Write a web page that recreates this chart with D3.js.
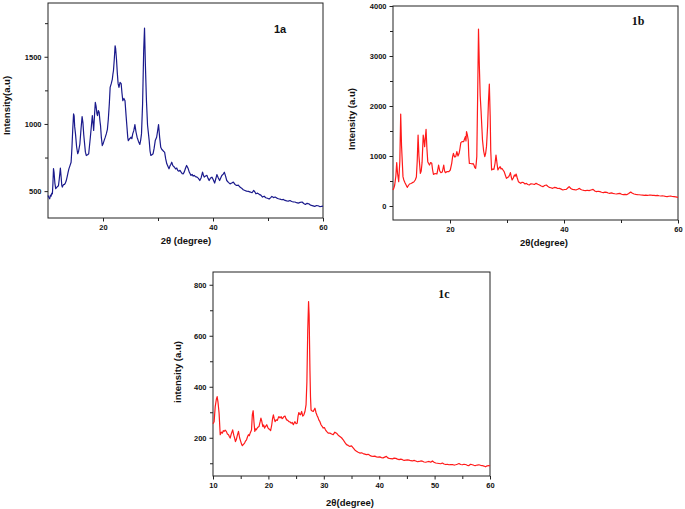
<!DOCTYPE html>
<html><head><meta charset="utf-8">
<script src="https://cdn.jsdelivr.net/npm/d3@7/dist/d3.min.js"></script>
<style>body{margin:0;background:#fff}svg{display:block}</style>
</head><body>
<svg id="c" width="685" height="509"></svg>
<script>
// ---- Panel 1a data ----
const twoThetaA = [10.0,10.15,10.3,10.45,10.55,10.7,10.8,10.9,11.0,11.1,11.25,11.4,11.6,11.75,11.9,12.05,12.25,12.4,12.5,12.6,12.8,13.0,13.15,13.3,13.5,13.65,13.8,14.0,14.2,14.35,14.5,14.65,14.75,14.85,15.0,15.2,15.4,15.55,15.8,16.0,16.2,16.35,16.5,16.6,16.8,16.97,17.2,17.4,17.55,17.7,17.9,18.06,18.2,18.3,18.45,18.6,18.75,18.9,19.0,19.15,19.3,19.45,19.55,19.7,19.87,20.0,20.2,20.4,20.6,20.8,20.97,21.15,21.3,21.5,21.7,21.8,21.9,22.05,22.2,22.3,22.45,22.6,22.75,22.9,23.1,23.3,23.45,23.6,23.8,24.0,24.2,24.36,24.5,24.6,24.85,25.1,25.25,25.4,25.6,25.8,26.0,26.2,26.45,26.7,26.85,27.0,27.2,27.4,27.55,27.7,27.9,28.1,28.4,28.55,28.7,28.9,29.1,29.3,29.5,29.75,29.9,30.1,30.3,30.5,30.7,30.9,31.05,31.2,31.4,31.6,31.8,32.0,32.2,32.35,32.5,32.7,33.0,33.2,33.4,33.6,33.8,34.0,34.2,34.4,34.6,34.8,35.0,35.2,35.35,35.5,35.7,36.0,36.2,36.4,36.6,36.8,37.1,37.35,37.6,37.85,38.1,38.25,38.4,38.65,38.9,39.1,39.3,39.55,39.8,40.05,40.3,40.5,40.7,40.95,41.2,41.4,41.6,41.85,42.06,42.3,42.5,42.8,43.1,43.4,43.7,44.0,44.3,44.6,44.9,45.2,45.5,45.8,46.1,46.45,46.8,47.1,47.4,47.6,47.8,48.1,48.4,48.7,49.0,49.3,49.6,49.9,50.2,50.45,50.7,51.0,51.3,51.6,51.9,52.2,52.5,52.8,53.1,53.4,53.7,54.0,54.3,54.6,54.9,55.2,55.5,55.85,56.2,56.5,56.8,57.1,57.4,57.65,57.9,58.2,58.5,58.8,59.1,59.4,59.7,60.0];
const intensityA = [468,455,443,470,462,485,480,560,668,640,560,518,528,535,540,590,671,600,545,530,548,550,560,575,610,640,666,690,715,820,960,1075,1060,980,926,830,778,795,852,960,1055,1010,920,876,790,765,770,778,840,901,990,1062,1000,951,1060,1160,1130,1075,1062,1100,1087,1020,988,900,839,850,876,900,926,960,1037,1150,1272,1300,1334,1370,1396,1480,1582,1560,1483,1380,1300,1272,1310,1300,1230,1173,1190,1173,1060,975,900,876,890,901,890,926,950,995,940,901,870,847,880,926,1150,1550,1713,1450,1173,990,876,800,765,770,778,820,876,901,940,995,900,826,810,802,795,790,740,703,685,666,690,700,715,690,678,665,672,654,648,655,641,630,629,645,670,691,680,666,640,617,625,612,617,608,604,595,579,600,641,620,604,612,617,595,579,598,604,585,560,590,623,600,579,598,617,625,641,610,579,565,554,560,567,550,542,545,530,522,510,505,500,498,493,488,505,495,480,485,476,470,456,462,451,447,441,450,461,452,456,448,443,440,436,438,431,428,426,430,423,420,419,414,411,416,419,408,401,409,406,398,394,390,386,393,391,385,386,388];
const yTicksA = [500, 1000, 1500];
const xTicksA = [20, 40, 60];

// ---- Panel 1b data ----
const twoThetaB = [10.0,10.15,10.3,10.5,10.65,10.8,11.0,11.2,11.35,11.5,11.75,11.9,12.1,12.3,12.5,12.7,12.9,13.15,13.4,13.65,13.9,14.1,14.25,14.4,14.55,14.8,14.95,15.1,15.3,15.45,15.55,15.7,15.8,15.95,16.1,16.25,16.4,16.6,16.8,16.95,17.1,17.4,17.7,17.85,18.0,18.2,18.4,18.65,18.9,19.05,19.2,19.5,19.8,20.05,20.3,20.45,20.6,20.8,21.0,21.2,21.4,21.6,21.75,21.9,22.15,22.4,22.55,22.7,22.8,22.9,23.05,23.2,23.3,23.4,23.65,23.9,24.05,24.2,24.35,24.5,24.6,24.7,24.85,25.0,25.15,25.3,25.45,25.6,25.7,25.9,26.1,26.25,26.4,26.6,26.75,26.9,27.05,27.15,27.3,27.5,27.7,27.9,28.07,28.25,28.4,28.6,28.8,28.95,29.1,29.3,29.5,29.7,29.9,30.1,30.3,30.45,30.6,30.75,30.9,31.1,31.3,31.45,31.6,31.8,32.0,32.2,32.4,32.65,32.9,33.15,33.4,33.65,33.9,34.2,34.5,34.8,35.1,35.4,35.7,36.0,36.3,36.6,36.9,37.15,37.4,37.7,38.0,38.3,38.6,38.9,39.2,39.5,39.8,40.1,40.4,40.65,40.9,41.2,41.5,41.8,42.1,42.4,42.7,42.95,43.2,43.5,43.8,44.1,44.4,44.75,45.1,45.4,45.7,46.0,46.3,46.6,46.9,47.2,47.5,47.75,48.0,48.3,48.6,48.9,49.2,49.5,49.8,50.1,50.4,50.7,51.0,51.35,51.7,52.0,52.3,52.6,52.9,53.2,53.5,53.8,54.1,54.35,54.6,54.9,55.2,55.5,55.8,56.1,56.4,56.7,57.0,57.25,57.5,57.8,58.1,58.4,58.7,59.0,59.3,59.6,60.0];
const intensityB = [320,360,420,600,867,650,487,900,1840,1200,587,520,467,420,373,410,440,450,467,480,520,580,900,1420,1000,653,700,867,1420,1300,1187,1400,1533,1150,887,850,820,870,853,720,633,650,640,720,820,700,667,680,820,700,667,690,687,720,853,980,1053,980,987,1087,1000,1053,1150,1267,1290,1287,1340,1387,1300,1487,1420,1320,1000,853,850,840,850,820,770,753,850,987,2200,3540,2800,2200,1900,1550,1320,1100,987,1050,1187,1600,2100,2440,1800,1100,720,740,733,850,1020,850,720,760,787,740,753,720,687,620,553,570,587,620,667,580,520,560,620,600,640,560,487,470,453,475,467,440,453,430,420,445,440,430,453,435,420,400,387,410,420,395,373,365,353,372,367,350,353,338,320,330,333,360,387,350,333,328,320,335,353,330,320,312,307,315,307,320,333,300,287,295,287,275,267,278,273,260,253,262,253,245,240,248,253,235,227,232,227,250,280,255,240,232,227,225,220,218,213,218,213,216,220,212,213,208,213,205,200,205,200,193,187,195,200,190,187,182,173];
const yTicksB = [0, 1000, 2000, 3000, 4000];
const xTicksB = [20, 40, 60];

// ---- Panel 1c data ----
const twoThetaC = [10.0,10.2,10.4,10.6,10.75,10.9,11.1,11.3,11.5,11.7,11.85,12.0,12.2,12.4,12.6,12.8,12.95,13.1,13.3,13.55,13.75,13.9,14.05,14.2,14.4,14.6,14.8,15.0,15.15,15.3,15.5,15.7,15.9,16.05,16.25,16.4,16.55,16.7,16.95,17.1,17.25,17.4,17.55,17.7,17.8,18.05,18.3,18.5,18.65,18.8,19.0,19.15,19.3,19.5,19.7,19.9,20.1,20.25,20.4,20.6,20.75,20.9,21.05,21.2,21.4,21.6,21.75,21.9,22.1,22.3,22.45,22.6,22.8,23.0,23.15,23.3,23.5,23.7,23.9,24.1,24.3,24.5,24.65,24.8,25.0,25.2,25.35,25.5,25.65,25.8,26.0,26.2,26.4,26.6,26.8,26.95,27.1,27.25,27.35,27.5,27.6,27.7,27.9,28.1,28.25,28.4,28.6,28.8,28.95,29.1,29.3,29.5,29.7,29.9,30.1,30.3,30.5,30.8,31.1,31.4,31.7,32.0,32.3,32.6,32.9,33.2,33.5,33.8,34.1,34.4,34.7,35.0,35.3,35.6,35.9,36.2,36.5,36.8,37.1,37.4,37.7,38.0,38.3,38.6,38.9,39.2,39.5,39.8,40.1,40.4,40.7,41.0,41.3,41.55,41.8,42.1,42.4,42.7,43.0,43.3,43.6,43.9,44.2,44.5,44.8,45.1,45.4,45.7,46.0,46.3,46.6,46.9,47.2,47.5,47.8,48.1,48.4,48.7,49.0,49.3,49.6,49.9,50.2,50.5,50.8,51.1,51.4,51.7,52.0,52.3,52.6,52.9,53.2,53.5,53.8,54.1,54.4,54.7,55.0,55.3,55.6,55.9,56.2,56.5,56.8,57.1,57.4,57.7,58.0,58.3,58.6,58.9,59.2,59.5,59.8,60.0];
const intensityC = [255,263,322,350,361,340,296,212,222,218,228,225,230,225,215,212,205,199,215,231,210,199,185,192,210,225,200,186,175,169,174,179,188,192,205,212,208,218,230,290,306,260,225,235,231,240,244,262,277,265,244,250,238,245,251,240,234,232,228,250,275,290,275,263,270,268,276,283,278,283,275,277,283,285,276,270,268,263,262,257,260,251,258,263,255,257,285,299,292,290,303,285,290,303,330,420,620,734,680,465,360,309,305,303,310,316,298,286,280,270,263,251,245,238,240,231,225,218,218,215,212,222,218,210,205,200,192,182,173,170,166,168,160,152,147,143,140,141,138,136,134,135,131,128,127,128,125,124,125,122,121,124,127,121,119,118,117,120,119,116,114,116,114,111,112,113,112,110,109,111,109,106,107,109,108,105,104,106,107,104,109,104,101,100,99,98,101,97,95,96,94,95,95,93,94,96,99,95,94,96,95,92,91,96,94,92,91,93,94,92,91,89,86,90,91,89];
const yTicksC = [200, 400, 600, 800];
const xTicksC = [10, 20, 30, 40, 50, 60];

const svg = d3.select("#c");

function panel(cfg) {
  const x = d3.scaleLinear().domain(cfg.xDomain).range([cfg.left, cfg.right]);
  const y = d3.scaleLinear().domain(cfg.yDomain).range([cfg.bottom, cfg.top]);
  const g = svg.append("g");

  // minor ticks
  const tickFont = cfg.tickFont;
  const xAxis = d3.axisBottom(x).tickValues(cfg.xTicks).tickSize(3.5).tickPadding(3).tickFormat(d3.format("d"));
  const xMinor = d3.axisBottom(x).tickValues(cfg.xMinor).tickSize(3).tickFormat("");
  const yAxis = d3.axisLeft(y).tickValues(cfg.yTicks).tickSize(3.5).tickPadding(3).tickFormat(d3.format("d"));
  const yMinor = d3.axisLeft(y).tickValues(cfg.yMinor).tickSize(3).tickFormat("");

  [ [xAxis, "x"], [xMinor, "x"], [yAxis, "y"], [yMinor, "y"] ].forEach(([ax, k]) => {
    const a = g.append("g")
      .attr("transform", k === "x" ? `translate(0,${cfg.bottom})` : `translate(${cfg.left},0)`)
      .call(ax);
    a.select(".domain").remove();
    a.selectAll("line").attr("stroke", "#222").attr("stroke-width", 1);
    a.selectAll("text").attr("font-family", "Liberation Sans, Arial, sans-serif")
      .attr("font-weight", "bold").attr("font-size", tickFont).attr("fill", "#111");
  });

  // frame
  g.append("rect").attr("x", cfg.left).attr("y", cfg.top)
    .attr("width", cfg.right - cfg.left).attr("height", cfg.bottom - cfg.top)
    .attr("fill", "none").attr("stroke", "#222").attr("stroke-width", 1);

  // data line
  const pts = cfg.xs.map((d, i) => [d, cfg.ys[i]]);
  g.append("path").datum(pts)
    .attr("d", d3.line().x(d => x(d[0])).y(d => y(d[1])))
    .attr("fill", "none").attr("stroke", cfg.color).attr("stroke-width", 1.2)
    .attr("stroke-linejoin", "round");

  // y label
  g.append("text")
    .attr("transform", `translate(${cfg.yLabelX},${(cfg.top + cfg.bottom) / 2 + cfg.yLabelDy}) rotate(-90)`)
    .attr("text-anchor", "middle")
    .attr("font-family", "Liberation Sans, Arial, sans-serif").attr("font-weight", "bold")
    .attr("font-size", cfg.labelFont).attr("fill", "#111").text(cfg.yLabel);
  // x label
  g.append("text").attr("x", cfg.xLabelX).attr("y", cfg.xLabelY)
    .attr("text-anchor", "middle")
    .attr("font-family", "Liberation Sans, Arial, sans-serif").attr("font-weight", "bold")
    .attr("font-size", cfg.labelFont).attr("fill", "#111").text(cfg.xLabel);
  // panel title
  g.append("text").attr("x", cfg.titleX).attr("y", cfg.titleY)
    .attr("text-anchor", "middle")
    .attr("font-family", cfg.titleFamily).attr("font-weight", "bold")
    .attr("font-size", cfg.titleSize).attr("fill", "#111").text(cfg.title);
}

panel({
  xs: twoThetaA, ys: intensityA, color: "#1a1a8c",
  xDomain: [10, 60], yDomain: [300, 1900],
  left: 48, right: 323, top: 3, bottom: 218,
  xTicks: xTicksA, xMinor: [30, 50], yTicks: yTicksA, yMinor: [750, 1250, 1750],
  tickFont: 7.5, labelFont: 9.5,
  yLabel: "Intensity(a.u)", yLabelX: 10, yLabelDy: -5,
  xLabel: "2θ (degree)", xLabelX: 186, xLabelY: 244,
  title: "1a", titleX: 280, titleY: 33, titleFamily: "Liberation Sans, Arial, sans-serif", titleSize: 11
});

panel({
  xs: twoThetaB, ys: intensityB, color: "#ff1a1a",
  xDomain: [10, 60], yDomain: [-280, 4000],
  left: 393, right: 678, top: 6, bottom: 220,
  xTicks: xTicksB, xMinor: [30, 50], yTicks: yTicksB, yMinor: [500, 1500, 2500, 3500],
  tickFont: 7.5, labelFont: 9.5,
  yLabel: "Intensity (a.u)", yLabelX: 355, yLabelDy: 6,
  xLabel: "2θ(degree)", xLabelX: 544, xLabelY: 246,
  title: "1b", titleX: 638, titleY: 25, titleFamily: "Liberation Serif, Times New Roman, serif", titleSize: 12
});

panel({
  xs: twoThetaC, ys: intensityC, color: "#ff1a1a",
  xDomain: [10, 60], yDomain: [50, 850],
  left: 213, right: 490, top: 272, bottom: 476,
  xTicks: xTicksC, xMinor: [15, 25, 35, 45, 55], yTicks: yTicksC, yMinor: [100, 300, 500, 700],
  tickFont: 7.5, labelFont: 9.5,
  yLabel: "intensity (a.u)", yLabelX: 181, yLabelDy: -2,
  xLabel: "2θ(degree)", xLabelX: 350, xLabelY: 506,
  title: "1c", titleX: 444, titleY: 298, titleFamily: "Liberation Serif, Times New Roman, serif", titleSize: 12
});
</script>
</body></html>
